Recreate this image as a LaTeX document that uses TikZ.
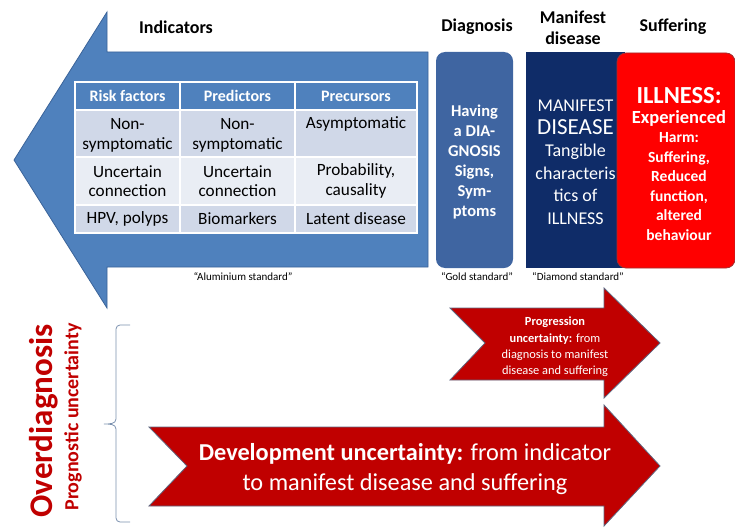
\documentclass[tikz,border=0pt]{standalone}
\usepackage{fontspec}
\setmainfont{Carlito}
\usetikzlibrary{positioning,calc}

\definecolor{indblue}{HTML}{4F81BD}
\definecolor{indline}{HTML}{3A6399}
\definecolor{diagblue}{HTML}{3F65A1}
\definecolor{navy}{HTML}{0F2C68}
\definecolor{illred}{HTML}{FF0000}
\definecolor{illline}{HTML}{A33030}
\definecolor{arrred}{HTML}{C00000}
\definecolor{arrline}{HTML}{5E6780}
\definecolor{rowdark}{HTML}{D0D8E8}
\definecolor{rowlight}{HTML}{E9EDF4}
\definecolor{bracegrey}{HTML}{7A90AE}

\newcommand{\fsz}[2]{\fontsize{#1}{#2}\selectfont}

\begin{document}
\begin{tikzpicture}[x=1pt,y=-1pt,
    heading/.style={font=\fsz{18}{21}\bfseries,align=center,inner sep=0pt},
    cell/.style={draw=white,line width=1.2pt,inner sep=0pt},
    celltext/.style={align=center,inner sep=0pt,font=\fsz{17.2}{19.5}},
    headtext/.style={celltext,text=white,font=\fsz{16}{19}\bfseries},
    stdlabel/.style={font=\fsz{11}{12},inner sep=0pt},
    bigbox/.style={rounded corners=9pt,inner sep=0pt},
    redarrow/.style={fill=arrred,draw=arrline,line width=0.8pt,line join=miter}]
    \useasboundingbox (0,0) rectangle (735,527);

    % indicators arrow
    \draw[fill=indblue,draw=indline,line width=0.8pt]
        (14,160) -- (107,12) -- (107,52) -- (428,52) -- (428,267) -- (107,267) -- (107,308) -- cycle;
    \node[heading] (ind) at (176,27) {Indicators};

    % table cells
    \node[cell,fill=indblue,minimum width=105pt,minimum height=28pt] (h1) at (127.5,96) {};
    \node[cell,fill=indblue,minimum width=115pt,minimum height=28pt] (h2) at (237.5,96) {};
    \node[cell,fill=indblue,minimum width=122pt,minimum height=28pt] (h3) at (356,96) {};
    \node[cell,fill=rowdark,minimum width=105pt,minimum height=47pt] (c11) at (127.5,133.5) {};
    \node[cell,fill=rowdark,minimum width=115pt,minimum height=47pt] (c12) at (237.5,133.5) {};
    \node[cell,fill=rowdark,minimum width=122pt,minimum height=47pt] (c13) at (356,133.5) {};
    \node[cell,fill=rowlight,minimum width=105pt,minimum height=48pt] (c21) at (127.5,181) {};
    \node[cell,fill=rowlight,minimum width=115pt,minimum height=48pt] (c22) at (237.5,181) {};
    \node[cell,fill=rowlight,minimum width=122pt,minimum height=48pt] (c23) at (356,181) {};
    \node[cell,fill=rowdark,minimum width=105pt,minimum height=28pt] (c31) at (127.5,219) {};
    \node[cell,fill=rowdark,minimum width=115pt,minimum height=28pt] (c32) at (237.5,219) {};
    \node[cell,fill=rowdark,minimum width=122pt,minimum height=28pt] (c33) at (356,219) {};

    % table text
    \node[headtext] (t-h1) at (h1) {Risk factors};
    \node[headtext] (t-h2) at (h2) {Predictors};
    \node[headtext] (t-h3) at (h3) {Precursors};
    \node[celltext,yshift=-2pt] (t-11) at (c11) {Non-\\symptomatic};
    \node[celltext,yshift=-2pt] (t-12) at (c12) {Non-\\symptomatic};
    \node[celltext,anchor=north] (t-13) at ($(c13.north)+(0,7)$) {Asymptomatic};
    \node[celltext] (t-21) at (c21) {Uncertain\\connection};
    \node[celltext] (t-22) at (c22) {Uncertain\\connection};
    \node[celltext] (t-23) at (c23) {Probability,\\causality};
    \node[celltext] (t-31) at (c31) {HPV, polyps};
    \node[celltext] (t-32) at (c32) {Biomarkers};
    \node[celltext] (t-33) at (c33) {Latent disease};

    \node[stdlabel] (alu) at (243,277) {“Aluminium standard”};

    % diagnosis, manifest disease, illness
    \node[heading] (diaghd) at (477,27) {Diagnosis};
    \node[heading] (manhd) at (573,28) {Manifest\\disease};
    \node[heading] (sufhd) at (673,27) {Suffering};

    \node[bigbox,fill=diagblue,minimum width=77pt,minimum height=216pt] (diag) at (474.5,160) {};
    \node[text=white,align=center,inner sep=0pt,font=\fsz{16.5}{20}\bfseries] (diagtxt) at (474.5,162)
        {Having\\a DIA-\\GNOSIS\\Signs,\\Sym-\\ptoms};

    \node[fill=navy,inner sep=0pt,minimum width=99pt,minimum height=216pt] (man) at (575.5,160) {};
    \node[text=white,align=center,inner sep=0pt,font=\fsz{18}{22.5}] (mantxt) at (575.5,162)
        {MANIFEST\\{\fsz{23}{24}DISEASE}\\Tangible\\characteris\\tics of\\ILLNESS};

    \node[bigbox,fill=illred,draw=illline,line width=0.8pt,minimum width=118pt,minimum height=215pt] (ill) at (676,160.5) {};
    \node[text=white,align=center,inner sep=0pt,font=\fsz{15.5}{19.5}\bfseries] (illtxt) at (679,164)
        {{\fsz{24.5}{26}ILLNESS:}\\{\fsz{18.5}{21}Experienced}\\Harm:\\Suffering,\\Reduced\\function,\\altered\\behaviour};

    \node[stdlabel] (gold) at (477,277) {“Gold standard”};
    \node[stdlabel] (dia) at (578,277) {“Diamond standard”};

    % uncertainty arrows
    \draw[redarrow] (450,308) -- (604,308) -- (604,288) -- (660,343) -- (604,398) -- (604,380) -- (450,380) -- (485,343) -- cycle;
    \node[align=center,text=white,font=\fsz{12.4}{16.4},inner sep=0pt] (prog) at (555,347)
        {\textbf{Progression}\\\textbf{uncertainty:} from\\diagnosis to manifest\\disease and suffering};

    \draw[redarrow] (149,427) -- (604,427) -- (604,405) -- (660,466) -- (604,526) -- (604,506) -- (149,506) -- (187,466) -- cycle;
    \node[align=center,text=white,font=\fsz{24.3}{30},inner sep=0pt] (dev) at (405,469)
        {\textbf{Development uncertainty:} from indicator\\to manifest disease and suffering};

    % overdiagnosis
    \coordinate (btop) at (130,325);
    \coordinate (bmid) at (104,424);
    \coordinate (bbot) at (130,522);
    \draw[bracegrey,line width=0.8pt] (btop) -- (120,325) to[out=180,in=90] (116,329) -- (116,419)
        to[out=-90,in=0] (bmid) to[out=0,in=90] (116,429) -- (116,518) to[out=-90,in=180] (120,522) -- (bbot);
    \node[rotate=90,text=arrred,font=\fsz{33}{33}\bfseries,inner sep=0pt] (od) at (44,421) {Overdiagnosis};
    \node[rotate=90,text=arrred,font=\fsz{20}{20}\bfseries,inner sep=0pt] (pu) at (73,417) {Prognostic uncertainty};
\end{tikzpicture}
\end{document}
